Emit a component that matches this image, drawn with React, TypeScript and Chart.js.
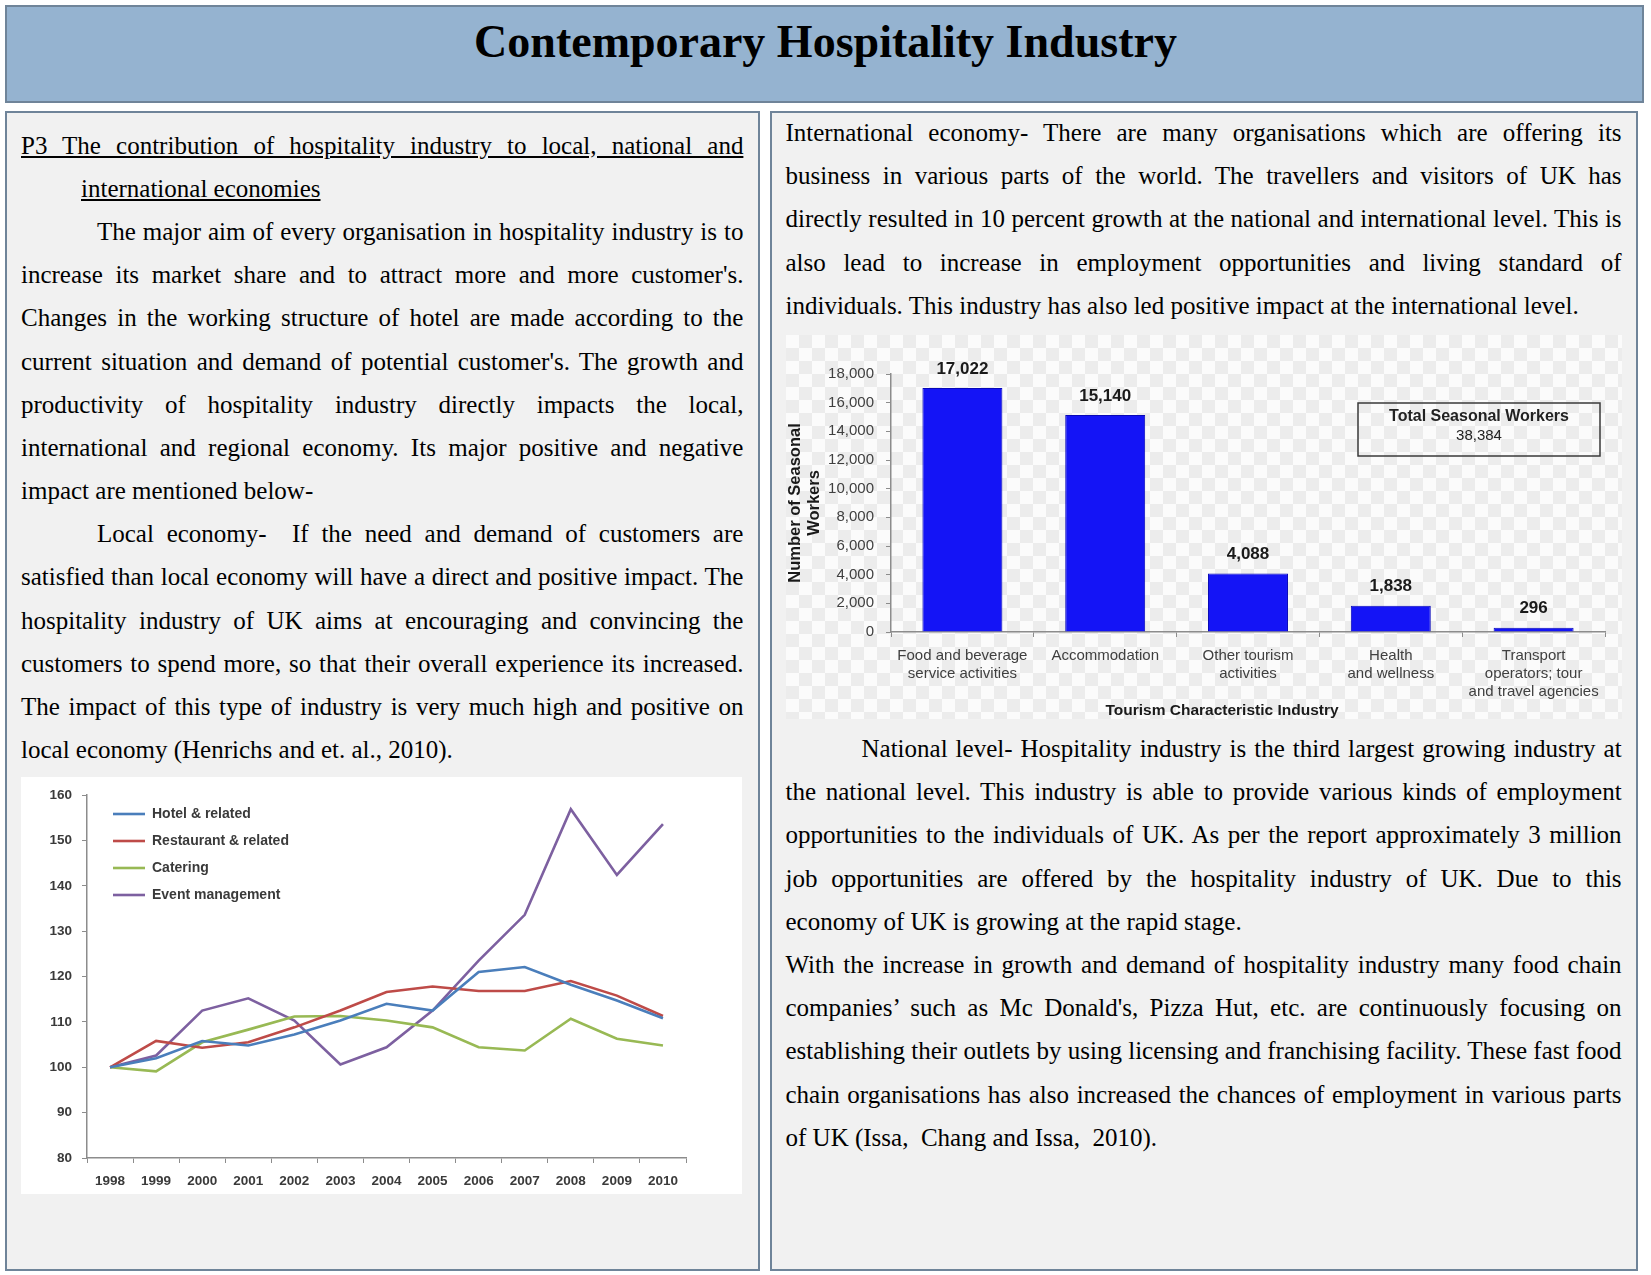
import React, { useEffect, useRef } from "react";
import { Chart, registerables } from "chart.js";

Chart.register(...registerables);

// ---------- Line chart data ----------
const years = ["1998", "1999", "2000", "2001", "2002", "2003", "2004", "2005", "2006", "2007", "2008", "2009", "2010"];
const hotelRelated = [100, 102.0, 105.8, 104.8, 107.2, 110.3, 114.0, 112.5, 121.0, 122.1, 118.2, 114.7, 110.8];
const restaurantRelated = [100, 105.8, 104.3, 105.5, 108.8, 112.5, 116.6, 117.8, 116.8, 116.8, 119.0, 115.8, 111.3];
const catering = [100, 99.1, 105.5, 108.3, 111.2, 111.3, 110.3, 108.8, 104.4, 103.7, 110.7, 106.3, 104.8];
const eventManagement = [100, 102.6, 112.5, 115.2, 110.3, 100.6, 104.4, 112.5, 123.5, 133.6, 156.9, 142.4, 153.6];
const lineSeriesNames = ["Hotel & related", "Restaurant & related", "Catering", "Event management"];
const lineColors = ["#4a7ebb", "#be4b48", "#98b954", "#7d60a0"];
const lineYMin = 80;
const lineYMax = 160;
const lineYStep = 10;

// ---------- Bar chart data ----------
const industries = [
  ["Food and beverage", "service activities"],
  ["Accommodation"],
  ["Other tourism", "activities"],
  ["Health", "and wellness"],
  ["Transport", "operators; tour", "and travel agencies"],
];
const seasonalWorkers = [17022, 15140, 4088, 1838, 296];
const totalSeasonalWorkers = 38384;
const barYMax = 18000;
const barYStep = 2000;
const barYTitle = ["Number of Seasonal", "Workers"];
const barXTitle = "Tourism Characteristic Industry";

// ---------- Text ----------
const leftLines: [string, string][] = [
  ["u1", "P3 The contribution of hospitality industry to local, national and"],
  ["u2", "international economies"],
  ["ij", "The major aim of every organisation in hospitality industry is to"],
  ["j", "increase its market share and to attract more and more customer's."],
  ["j", "Changes in the working structure of hotel are made according to the"],
  ["j", "current situation and demand of potential customer's. The growth and"],
  ["j", "productivity of hospitality industry directly impacts the local,"],
  ["j", "international and regional economy. Its major positive and negative"],
  ["l", "impact are mentioned below-"],
  ["ij", "Local economy-  If the need and demand of customers are"],
  ["j", "satisfied than local economy will have a direct and positive impact. The"],
  ["j", "hospitality industry of UK aims at encouraging and convincing the"],
  ["j", "customers to spend more, so that their overall experience its increased."],
  ["j", "The impact of this type of industry is very much high and positive on"],
  ["l", "local economy (Henrichs and et. al., 2010)."],
];
const rightTopLines: [string, string][] = [
  ["j", "International economy- There are many organisations which are offering its"],
  ["j", "business in various parts of the world. The travellers and visitors of UK has"],
  ["j", "directly resulted in 10 percent growth at the national and international level. This is"],
  ["j", "also lead to increase in employment opportunities and living standard of"],
  ["l", "individuals. This industry has also led positive impact at the international level."],
];
const rightBottomLines: [string, string][] = [
  ["ij", "National level- Hospitality industry is the third largest growing industry at"],
  ["j", "the national level. This industry is able to provide various kinds of employment"],
  ["j", "opportunities to the individuals of UK. As per the report approximately 3 million"],
  ["j", "job opportunities are offered by the hospitality industry of UK. Due to this"],
  ["l", "economy of UK is growing at the rapid stage."],
  ["j", "With the increase in growth and demand of hospitality industry many food chain"],
  ["j", "companies\u2019 such as Mc Donald's, Pizza Hut, etc. are continuously focusing on"],
  ["j", "establishing their outlets by using licensing and franchising facility. These fast food"],
  ["j", "chain organisations has also increased the chances of employment in various parts"],
  ["l", "of UK (Issa,  Chang and Issa,  2010)."],
];

const SERIF = '"Liberation Serif", "Times New Roman", serif';
const SANS = '"Liberation Sans", Arial, sans-serif';
const LH = 43.2;

function TextBlock({ lines, left, top, width, indent, underIndent }: { lines: [string, string][]; left: number; top: number; width: number; indent: number; underIndent?: number }) {
  return (
    <div style={{ position: "absolute", left, top, width, fontFamily: SERIF, fontSize: 25, color: "#000" }}>
      {lines.map(([kind, text], i) => {
        const justify = kind === "j" || kind === "ij" || kind === "u1";
        const pad = kind === "ij" ? indent : kind === "u2" ? underIndent || 0 : 0;
        const underline = kind === "u1" || kind === "u2";
        return (
          <div
            key={i}
            style={{
              height: LH,
              lineHeight: LH + "px",
              whiteSpace: "pre",
              paddingLeft: pad,
              textAlign: justify ? "justify" : "left",
              textAlignLast: justify ? "justify" : "left",
            }}
          >
            <span style={{ textDecoration: underline ? "underline" : "none", display: underline && kind === "u1" ? "block" : "inline" }}>{text}</span>
          </div>
        );
      })}
    </div>
  );
}

function LineChart() {
  const ref = useRef<HTMLCanvasElement>(null);
  useEffect(() => {
    if (!ref.current) return;
    const series = [hotelRelated, restaurantRelated, catering, eventManagement];
    const legendShift = {
      id: "legendShift",
      afterLayout(chart: any) {
        if (chart.legend) {
          chart.legend.left += 13;
          chart.legend.top += 17;
          chart.legend.bottom += 17;
        }
      },
    };
    const tickFont = { family: SANS, size: 13.5, weight: "bold" as const };
    const chart = new Chart(ref.current, {
      type: "line",
      data: {
        labels: years,
        datasets: series.map((d, i) => ({
          label: lineSeriesNames[i],
          data: d,
          borderColor: lineColors[i],
          backgroundColor: lineColors[i],
          borderWidth: 2.6,
          pointRadius: 0,
          tension: 0,
          fill: false,
        })),
      },
      options: {
        animation: false,
        responsive: false,
        maintainAspectRatio: false,
        layout: { padding: { top: 17, right: 56, left: 0, bottom: 0 } },
        plugins: {
          legend: {
            position: "chartArea" as any,
            align: "start",
            labels: {
              usePointStyle: true,
              pointStyle: "line",
              pointStyleWidth: 32,
              padding: 13,
              color: "#3a3a3a",
              font: { family: SANS, size: 14, weight: "bold" },
            },
          },
          tooltip: { enabled: false },
        },
        scales: {
          x: {
            offset: true,
            grid: { display: true, drawOnChartArea: false, offset: true, tickLength: 5, color: "#8c8c8c" },
            border: { color: "#8c8c8c", width: 1.5 },
            ticks: { padding: 10, color: "#3a3a3a", font: tickFont, maxRotation: 0, autoSkip: false },
            afterFit: (s: any) => {
              s.height = 36;
            },
          },
          y: {
            min: lineYMin,
            max: lineYMax,
            grid: { display: true, drawOnChartArea: false, tickLength: 5, color: "#8c8c8c" },
            border: { color: "#8c8c8c", width: 1.5 },
            ticks: { stepSize: lineYStep, padding: 10, color: "#3a3a3a", font: tickFont },
            afterFit: (s: any) => {
              s.width = 66;
            },
          },
        },
      },
      plugins: [legendShift],
    });
    return () => chart.destroy();
  }, []);
  return <canvas ref={ref} width={721} height={417} style={{ position: "absolute", left: 21, top: 777, width: 721, height: 417, background: "#ffffff", display: "block" }} />;
}

function BarChart() {
  const ref = useRef<HTMLCanvasElement>(null);
  useEffect(() => {
    if (!ref.current) return;
    const barValues = {
      id: "barValues",
      afterDatasetsDraw(chart: any) {
        const ctx = chart.ctx;
        const meta = chart.getDatasetMeta(0);
        ctx.save();
        ctx.font = `bold 17px ${SANS}`;
        ctx.fillStyle = "#1a1a1a";
        ctx.textAlign = "center";
        ctx.textBaseline = "middle";
        meta.data.forEach((bar: any, i: number) => {
          ctx.fillText(seasonalWorkers[i].toLocaleString("en-US"), bar.x, bar.y - 19);
        });
        ctx.restore();
      },
    };
    const xTitle = {
      id: "xTitle",
      afterDraw(chart: any) {
        const { ctx, chartArea } = chart;
        ctx.save();
        ctx.font = `bold 15.5px ${SANS}`;
        ctx.fillStyle = "#1a1a1a";
        ctx.textAlign = "center";
        ctx.textBaseline = "middle";
        ctx.fillText(barXTitle, (chartArea.left + chartArea.right) / 2 - 26, chart.height - 8);
        ctx.restore();
      },
    };
    const totalBox = {
      id: "totalBox",
      afterDraw(chart: any) {
        const { ctx, chartArea } = chart;
        const w = 242;
        const h = 53;
        const x = chartArea.right - w - 5;
        const y = chartArea.top + 29;
        ctx.save();
        ctx.strokeStyle = "#3a3a3a";
        ctx.lineWidth = 1.5;
        ctx.strokeRect(x, y, w, h);
        ctx.fillStyle = "#222";
        ctx.textAlign = "center";
        ctx.textBaseline = "middle";
        ctx.font = `bold 16px ${SANS}`;
        ctx.fillText("Total Seasonal Workers", x + w / 2, y + 14);
        ctx.font = `15px ${SANS}`;
        ctx.fillText(totalSeasonalWorkers.toLocaleString("en-US"), x + w / 2, y + 33);
        ctx.restore();
      },
    };
    const chart = new Chart(ref.current, {
      type: "bar",
      data: {
        labels: industries,
        datasets: [
          {
            label: "Seasonal workers",
            data: seasonalWorkers,
            backgroundColor: "#1414f6",
            borderColor: "#0808b8",
            borderWidth: 1,
            barPercentage: 0.56,
            categoryPercentage: 1,
          },
        ],
      },
      options: {
        animation: false,
        responsive: false,
        maintainAspectRatio: false,
        locale: "en-US",
        layout: { padding: { top: 39, right: 17, left: 0, bottom: 0 } },
        plugins: { legend: { display: false }, tooltip: { enabled: false } },
        scales: {
          x: {
            grid: { display: true, drawOnChartArea: false, offset: true, tickLength: 5, color: "#8c8c8c" },
            border: { color: "#8c8c8c", width: 1.5 },
            ticks: { padding: 10, color: "#404040", font: { family: SANS, size: 15, lineHeight: 1.2 }, maxRotation: 0, autoSkip: false },
            afterFit: (s: any) => {
              s.height = 87;
            },
          },
          y: {
            min: 0,
            max: barYMax,
            grid: { display: true, drawOnChartArea: false, tickLength: 5, color: "#8c8c8c" },
            border: { color: "#8c8c8c", width: 1.5 },
            ticks: { stepSize: barYStep, padding: 12, color: "#404040", font: { family: SANS, size: 15 } },
            title: { display: true, text: barYTitle, color: "#1a1a1a", font: { family: SANS, size: 16.5, weight: "bold", lineHeight: 1.15 }, padding: 0 },
            afterFit: (s: any) => {
              s.width = 105;
            },
          },
        },
      },
      plugins: [barValues, xTitle, totalBox],
    });
    return () => chart.destroy();
  }, []);
  return (
    <canvas
      ref={ref}
      width={836}
      height={384}
      style={{
        position: "absolute",
        left: 786,
        top: 335,
        width: 836,
        height: 384,
        display: "block",
        background: "repeating-conic-gradient(#ececec 0% 25%, #fbfbfb 0% 50%) 0 0 / 26px 26px",
      }}
    />
  );
}

export default function App() {
  return (
    <div style={{ position: "absolute", left: 0, top: 0, width: 1651, height: 1275, background: "#ffffff", overflow: "hidden" }}>
      <div
        style={{
          position: "absolute",
          left: 5,
          top: 5,
          width: 1639,
          height: 98,
          boxSizing: "border-box",
          background: "#95b3d0",
          border: "2px solid #6f8499",
        }}
      />
      <div
        style={{
          position: "absolute",
          left: 0,
          top: 18.5,
          width: 1651,
          textAlign: "center",
          fontFamily: SERIF,
          fontWeight: "bold",
          fontSize: 46,
          lineHeight: "46px",
          color: "#000",
        }}
      >
        Contemporary Hospitality Industry
      </div>
      <div style={{ position: "absolute", left: 5, top: 111, width: 755, height: 1160, boxSizing: "border-box", background: "#f1f1f1", border: "2px solid #6f8499" }} />
      <div style={{ position: "absolute", left: 770, top: 111, width: 868, height: 1160, boxSizing: "border-box", background: "#f1f1f1", border: "2px solid #6f8499" }} />
      <TextBlock lines={leftLines} left={21} top={123.6} width={722.4} indent={76} underIndent={60} />
      <TextBlock lines={rightTopLines} left={785.5} top={111} width={836.1} indent={76} />
      <TextBlock lines={rightBottomLines} left={785.5} top={727} width={836.1} indent={76} />
      <LineChart />
      <BarChart />
    </div>
  );
}
